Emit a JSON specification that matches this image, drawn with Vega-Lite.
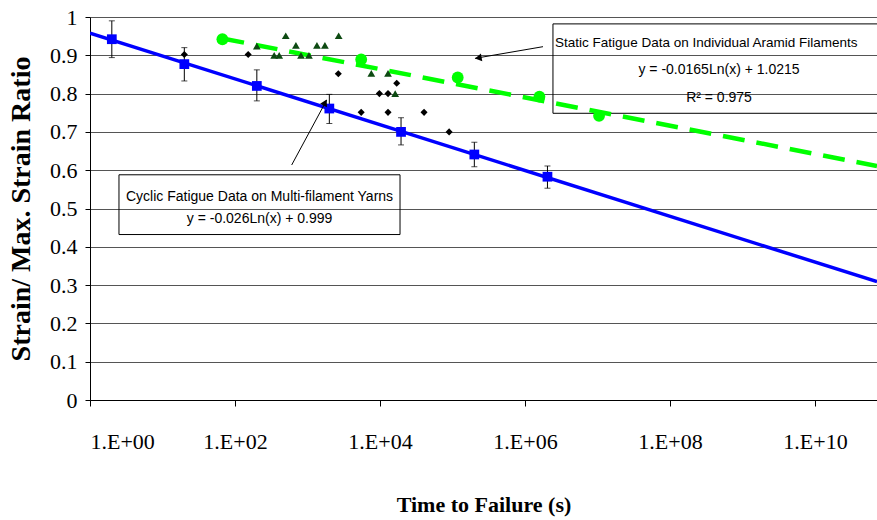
{
  "$schema": "https://vega.github.io/schema/vega-lite/v6.json",
  "width": 787,
  "height": 383,
  "autosize": {"type": "none"},
  "padding": {"left": 90, "top": 17, "right": 0, "bottom": 120},
  "background": "white",
  "config": {"view": {"stroke": null}},
  "datasets": {
    "cyclic": [
      {"t": 2, "y": 0.942, "lo": 0.894, "hi": 0.99},
      {"t": 20, "y": 0.877, "lo": 0.833, "hi": 0.92},
      {"t": 200, "y": 0.82, "lo": 0.781, "hi": 0.862},
      {"t": 2000, "y": 0.761, "lo": 0.722, "hi": 0.798},
      {"t": 19500, "y": 0.70, "lo": 0.666, "hi": 0.737},
      {"t": 200000, "y": 0.641, "lo": 0.609, "hi": 0.673},
      {"t": 2040000, "y": 0.583, "lo": 0.553, "hi": 0.611}
    ],
    "static": [
      {"t": 67, "y": 0.942},
      {"t": 5500, "y": 0.889},
      {"t": 118000, "y": 0.842},
      {"t": 1580000, "y": 0.792},
      {"t": 10500000, "y": 0.742}
    ],
    "diamonds": [
      {"t": 20, "y": 0.902},
      {"t": 152, "y": 0.902},
      {"t": 2660, "y": 0.852},
      {"t": 9800, "y": 0.80},
      {"t": 12900, "y": 0.80},
      {"t": 17000, "y": 0.827},
      {"t": 5500, "y": 0.751},
      {"t": 12900, "y": 0.751},
      {"t": 40500, "y": 0.751},
      {"t": 89800, "y": 0.70}
    ],
    "triangles": [
      {"t": 200, "y": 0.924},
      {"t": 347, "y": 0.90},
      {"t": 407, "y": 0.90},
      {"t": 501, "y": 0.951},
      {"t": 692, "y": 0.926},
      {"t": 813, "y": 0.90},
      {"t": 1047, "y": 0.90},
      {"t": 1349, "y": 0.926},
      {"t": 1738, "y": 0.926},
      {"t": 2690, "y": 0.951},
      {"t": 7590, "y": 0.853},
      {"t": 12900, "y": 0.853},
      {"t": 16200, "y": 0.80}
    ],
    "trends": [
      {"series": "cyclic", "t": 1, "y": 0.958},
      {"series": "cyclic", "t": 7.16e10, "y": 0.309},
      {"series": "static", "t": 67, "y": 0.944},
      {"series": "static", "t": 7.16e10, "y": 0.611}
    ],
    "boxes": [
      {"t": 2430000, "t2": 1e12, "y": 0.7486, "y2": 0.982},
      {"t": 2.51, "t2": 18880, "y": 0.432, "y2": 0.588}
    ],
    "arrows": [
      {"t": 1770000, "y": 0.9225, "t2": 204000, "y2": 0.892},
      {"t": 605, "y": 0.6136, "t2": 1841, "y2": 0.7833}
    ],
    "heads": [
      {"t": 235000, "y": 0.8935, "angle": 260},
      {"t": 1720, "y": 0.774, "angle": 28}
    ],
    "labels_left": [
      {"t": 2600000, "y": 0.932, "text": "Static Fatigue Data on Individual Aramid Filaments"}
    ],
    "labels": [
      {"t": 4.74e8, "y": 0.8616, "text": "y = -0.0165Ln(x) + 1.0215"},
      {"t": 4.74e8, "y": 0.7885, "text": "R² = 0.975"},
      {"t": 218, "y": 0.530, "text": "Cyclic Fatigue Data on Multi-filament Yarns"},
      {"t": 218, "y": 0.4713, "text": "y = -0.026Ln(x) + 0.999"}
    ]
  },
  "encoding": {
    "x": {
      "field": "t",
      "type": "quantitative",
      "scale": {"type": "log", "domain": [1, 7.16e10], "nice": false},
      "axis": {
        "values": [1, 100, 10000, 1000000, 100000000, 10000000000],
        "labelExpr": "datum.value < 1e10 ? '1.E+0' + round(log(datum.value)/LN10) : '1.E+' + round(log(datum.value)/LN10)",
        "grid": false,
        "domainColor": "black",
        "tickColor": "black",
        "tickSize": 6,
        "labelFont": "Liberation Serif",
        "labelFontSize": 22,
        "labelColor": "black",
        "labelPadding": 25,
        "title": "Time to Failure (s)",
        "titleFont": "Liberation Serif",
        "titleFontSize": 22,
        "titleFontWeight": "bold",
        "titleColor": "black",
        "titlePadding": 42
      }
    },
    "y": {
      "field": "y",
      "type": "quantitative",
      "scale": {"domain": [0, 1], "nice": false},
      "axis": {
        "values": [0, 0.1, 0.2, 0.3, 0.4, 0.5, 0.6, 0.7, 0.8, 0.9, 1],
        "format": "~g",
        "grid": true,
        "gridColor": "#555555",
        "gridWidth": 1,
        "domainColor": "black",
        "tickColor": "black",
        "tickSize": 5,
        "labelFont": "Liberation Serif",
        "labelFontSize": 22,
        "labelColor": "black",
        "labelPadding": 8,
        "title": "Strain/ Max. Strain Ratio",
        "titleFont": "Liberation Serif",
        "titleFontSize": 28,
        "titleFontWeight": "bold",
        "titleColor": "black",
        "titlePadding": 14
      }
    }
  },
  "layer": [
    {
      "data": {"name": "boxes"},
      "mark": {"type": "rect", "fill": null, "fillOpacity": 0, "stroke": "black", "strokeWidth": 1, "clip": true},
      "encoding": {"x2": {"field": "t2"}, "y2": {"field": "y2"}}
    },
    {
      "data": {"name": "trends"},
      "transform": [{"filter": "datum.series == 'cyclic'"}],
      "mark": {"type": "line", "color": "#0000ff", "strokeWidth": 3.5, "clip": true},
      "encoding": {}
    },
    {
      "data": {"name": "trends"},
      "transform": [{"filter": "datum.series == 'static'"}],
      "mark": {"type": "line", "color": "#00ff00", "strokeWidth": 4.5, "strokeDash": [22, 12], "clip": true},
      "encoding": {}
    },
    {
      "data": {"name": "cyclic"},
      "mark": {"type": "rule", "color": "black", "strokeWidth": 1},
      "encoding": {"y": {"field": "lo", "type": "quantitative"}, "y2": {"field": "hi"}}
    },
    {
      "data": {"name": "cyclic"},
      "mark": {"type": "tick", "orient": "horizontal", "color": "black", "size": 6, "thickness": 1},
      "encoding": {"y": {"field": "lo", "type": "quantitative"}}
    },
    {
      "data": {"name": "cyclic"},
      "mark": {"type": "tick", "orient": "horizontal", "color": "black", "size": 6, "thickness": 1},
      "encoding": {"y": {"field": "hi", "type": "quantitative"}}
    },
    {
      "data": {"name": "cyclic"},
      "mark": {"type": "point", "shape": "square", "filled": true, "color": "#0000ff", "size": 95, "opacity": 1}
    },
    {
      "data": {"name": "static"},
      "mark": {"type": "point", "shape": "circle", "filled": true, "color": "#00ff00", "size": 140, "opacity": 1}
    },
    {
      "data": {"name": "diamonds"},
      "mark": {"type": "point", "shape": "diamond", "filled": true, "color": "black", "size": 50, "opacity": 1}
    },
    {
      "data": {"name": "triangles"},
      "mark": {"type": "point", "shape": "triangle-up", "filled": true, "color": "#0d4a12", "size": 60, "opacity": 1}
    },
    {
      "data": {"name": "arrows"},
      "mark": {"type": "rule", "color": "black", "strokeWidth": 1},
      "encoding": {"x2": {"field": "t2"}, "y2": {"field": "y2"}}
    },
    {
      "data": {"name": "heads"},
      "mark": {"type": "point", "shape": "triangle", "filled": true, "color": "black", "size": 60, "opacity": 1},
      "encoding": {"angle": {"field": "angle", "type": "quantitative", "scale": null}}
    },
    {
      "data": {"name": "labels_left"},
      "mark": {"type": "text", "font": "Liberation Sans", "fontSize": 13.5, "letterSpacing": -0.3, "color": "black", "align": "left", "baseline": "middle", "clip": true},
      "encoding": {"text": {"field": "text", "type": "nominal"}}
    },
    {
      "data": {"name": "labels"},
      "mark": {"type": "text", "font": "Liberation Sans", "fontSize": 14, "color": "black", "align": "center", "baseline": "middle", "clip": true},
      "encoding": {"text": {"field": "text", "type": "nominal"}}
    }
  ]
}
